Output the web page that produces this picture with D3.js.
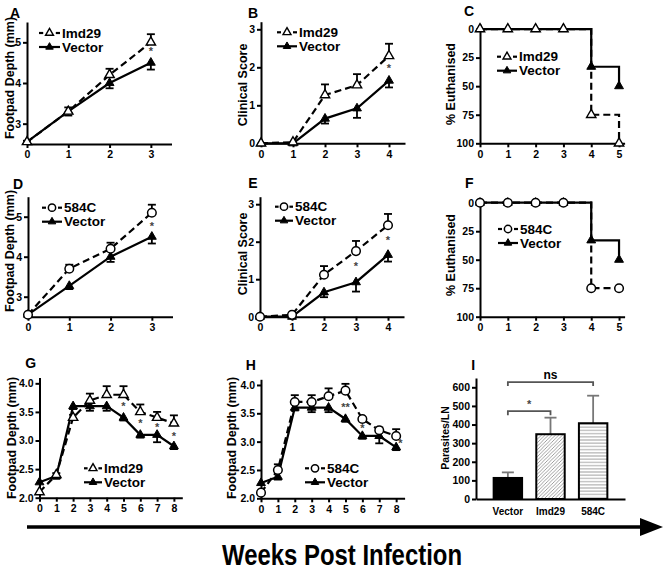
<!DOCTYPE html>
<html><head><meta charset="utf-8">
<script src="https://cdn.jsdelivr.net/npm/d3@7"></script>
<style>
body{margin:0;background:#fff}
svg{display:block}
text{font-family:"Liberation Sans",Arial,Helvetica,sans-serif;font-weight:bold;fill:#000}
</style>
</head><body>
<svg id="c" width="664" height="574"></svg>
<script>
// ---------------- DATA ----------------
const weeks3 = [0,1,2,3];
const weeks4 = [0,1,2,3,4];
const weeks5 = [0,1,2,3,4,5];
const weeks8 = [0,1,2,3,4,5,6,7,8];

// A: footpad depth, Imd29 vs Vector
const A_imd29 = [2.55,3.3,4.2,5.0];
const A_imd29_se = [0.03,0.1,0.15,0.2];
const A_vector = [2.55,3.3,4.0,4.5];
const A_vector_se = [0.03,0.1,0.13,0.17];
const A_stars = [{w:3,v:4.78,t:"*"}];

// B: clinical score, Imd29 vs Vector
const B_imd29 = [0,0.03,1.27,1.53,2.3];
const B_imd29_se = [0,0,0.28,0.29,0.32];
const B_vector = [0,0,0.65,0.92,1.65];
const B_vector_se = [0,0,0.13,0.25,0.18];
const B_stars = [{w:4,v:1.98,t:"*"}];

// C: % euthanised, Imd29 vs Vector
const C_imd29 = [0,0,0,0,75,100];
const C_vector = [0,0,0,0,33,50];

// D: footpad depth, 584C vs Vector
const D_584c = [2.55,3.7,4.2,5.1];
const D_584c_se = [0.03,0.1,0.15,0.2];
const D_vector = [2.55,3.27,4.0,4.5];
const D_vector_se = [0.03,0.08,0.13,0.17];
const D_stars = [{w:3,v:4.76,t:"*"}];

// E: clinical score, 584C vs Vector
const E_584c = [0,0.05,1.12,1.75,2.44];
const E_584c_se = [0,0,0.23,0.27,0.3];
const E_vector = [0,0,0.65,0.92,1.65];
const E_vector_se = [0,0,0.13,0.25,0.18];
const E_stars = [{w:3,v:1.35,t:"*"},{w:4,v:2.05,t:"*"}];

// F: % euthanised, 584C vs Vector
const F_584c = [0,0,0,0,75,75];
const F_vector = [0,0,0,0,33,50];

// G: footpad depth 8 weeks, Imd29 vs Vector
const G_imd29 = [2.1,2.4,3.4,3.7,3.8,3.8,3.5,3.4,3.3];
const G_imd29_se = [0,0.03,0.05,0.12,0.15,0.15,0.13,0.1,0.14];
const G_vector = [2.27,2.38,3.6,3.6,3.6,3.4,3.1,3.1,2.9];
const G_vector_se = [0,0.05,0.05,0.08,0.08,0.05,0.05,0.13,0.05];
const G_stars = [{w:5,v:3.61,t:"*"},{w:6,v:3.3,t:"*"},{w:7,v:3.23,t:"*"},{w:8,v:3.08,t:"*"}];

// H: footpad depth 8 weeks, 584C vs Vector
const H_584c = [2.1,2.5,3.7,3.7,3.8,3.9,3.4,3.2,3.1];
const H_584c_se = [0,0.1,0.12,0.12,0.14,0.12,0.03,0.05,0.12];
const H_vector = [2.27,2.38,3.6,3.6,3.6,3.4,3.1,3.1,2.9];
const H_vector_se = [0,0.05,0.05,0.08,0.08,0.05,0.05,0.13,0.05];
const H_stars = [{w:5,v:3.62,t:"**"},{w:6,v:3.24,t:"*"},{w:8.25,v:2.98,t:"*"}];

// I: parasites per lymph node
const I_groups = ["Vector","Imd29","584C"];
const I_values = [113,348,407];
const I_se = [30,89,148];
const I_brackets = [{from:"Vector",to:"Imd29",level:472,label:"*"},{from:"Vector",to:"584C",level:628,label:"ns"}];

// tick labels
const ticksFootpad = [3,4,5];
const ticksScore = [0,1,2,3];
const ticksEuth = [0,25,50,75,100];
const ticksFootpad8 = [2.0,2.5,3.0,3.5,4.0];
const ticksParasites = [0,100,200,300,400,500,600];

// ---------------- DRAW ----------------
const svg = d3.select("#c");
const defs = svg.append("defs");
const pd = defs.append("pattern").attr("id","diag").attr("patternUnits","userSpaceOnUse").attr("width",3.5).attr("height",3.5);
pd.append("rect").attr("width",3.5).attr("height",3.5).attr("fill","#fff");
pd.append("path").attr("d","M-1,1 l2,-2 M0,3.5 l3.5,-3.5 M2.5,4.5 l2,-2").attr("stroke","#888").attr("stroke-width",0.8);
const ph = defs.append("pattern").attr("id","horiz").attr("patternUnits","userSpaceOnUse").attr("width",4).attr("height",3.2);
ph.append("rect").attr("width",4).attr("height",3.2).attr("fill","#fff");
ph.append("line").attr("x1",0).attr("x2",4).attr("y1",1.6).attr("y2",1.6).attr("stroke","#999").attr("stroke-width",0.9);

function styleAxis(g, fs){
  g.selectAll(".domain").attr("stroke","#000").attr("stroke-width",2);
  g.selectAll(".tick line").attr("stroke","#000").attr("stroke-width",2);
  g.selectAll(".tick text").attr("font-size",fs||10.5).attr("font-weight","bold").attr("fill","#000")
    .attr("font-family",'"Liberation Sans",Arial,sans-serif');
}

function marker(g, type, cx, cy, scale){
  const k = scale||1;
  if(type==="circle"){
    g.append("circle").attr("cx",cx).attr("cy",cy).attr("r",4.3*k).attr("fill","#fff").attr("stroke","#000").attr("stroke-width",1.5);
  } else if(type==="otri"){
    g.append("path").attr("d",d3.symbol(d3.symbolTriangle,38*k*k)()).attr("transform",`translate(${cx},${cy})`)
      .attr("fill","#fff").attr("stroke","#000").attr("stroke-width",1.4);
  } else {
    g.append("path").attr("d",d3.symbol(d3.symbolTriangle,34*k*k)()).attr("transform",`translate(${cx},${cy})`)
      .attr("fill","#000").attr("stroke","#000").attr("stroke-width",1);
  }
}

function linePanel(c){
  const g = svg.append("g");
  const x = d3.scaleLinear().domain(c.xd).range(c.xr);
  const y = d3.scaleLinear().domain(c.yd).range(c.yr);
  const axisY = c.axisY;
  const gx = g.append("g").attr("transform",`translate(0,${axisY})`)
    .call(d3.axisBottom(x).tickValues(c.xticks).tickSize(4).tickSizeOuter(0).tickPadding(3).tickFormat(d3.format("d")));
  styleAxis(gx);
  const gy = g.append("g").attr("transform",`translate(${c.xr[0]},0)`)
    .call(d3.axisLeft(y).tickValues(c.yticks).tickSize(4).tickSizeOuter(0).tickPadding(2).tickFormat(c.yfmt||d3.format("d")));
  styleAxis(gy);
  g.append("text").attr("transform",`translate(${c.ylab[0]},${c.ylab[1]}) rotate(-90)`)
    .attr("text-anchor","middle").attr("dominant-baseline","central").attr("font-size",c.ylabSize||12.5).text(c.ylabel);
  g.append("text").attr("x",c.letterPos[0]).attr("y",c.letterPos[1]).attr("text-anchor","middle")
    .attr("dominant-baseline","central").attr("font-size",14).text(c.letter);
  c.series.forEach(s=>{
    const pts = c.weeks.map((w,i)=>({w, v:s.values[i], se: s.se?s.se[i]:0}));
    if(s.se){
      pts.forEach(p=>{
        if(!p.se) return;
        const y1 = y(p.v), y2 = y(p.v + s.dir*p.se), xx = x(p.w);
        g.append("line").attr("x1",xx).attr("x2",xx).attr("y1",y1).attr("y2",y2).attr("stroke","#000").attr("stroke-width",1.8);
        g.append("line").attr("x1",xx-4).attr("x2",xx+4).attr("y1",y2).attr("y2",y2).attr("stroke","#000").attr("stroke-width",1.8);
      });
    }
    const line = d3.line().x(p=>x(p.w)).y(p=>y(p.v)).curve(c.step?d3.curveStepAfter:d3.curveLinear);
    g.append("path").datum(pts).attr("d",line).attr("fill","none").attr("stroke","#000")
      .attr("stroke-width",2.2).attr("stroke-dasharray",s.dashed?"7,4":null);
  });
  c.series.forEach(s=>{
    c.weeks.forEach((w,i)=>marker(g, s.marker, x(w), y(s.values[i])));
  });
  (c.stars||[]).forEach(st=>{
    g.append("text").attr("x",x(st.w)).attr("y",y(st.v)+4).attr("text-anchor","middle")
      .attr("font-size",11).style("fill","#444").text(st.t);
  });
  const L = c.legend;
  L.items.forEach((it,i)=>{
    const ly = L.y + i*L.dy;
    if(it.dashed){
      g.append("line").attr("x1",L.x).attr("x2",L.x+L.len*0.2).attr("y1",ly).attr("y2",ly).attr("stroke","#000").attr("stroke-width",2.2);
      g.append("line").attr("x1",L.x+L.len*0.8).attr("x2",L.x+L.len).attr("y1",ly).attr("y2",ly).attr("stroke","#000").attr("stroke-width",2.2);
    } else {
      g.append("line").attr("x1",L.x).attr("x2",L.x+L.len).attr("y1",ly).attr("y2",ly).attr("stroke","#000").attr("stroke-width",2.2);
    }
    marker(g, it.marker, L.x+L.len/2, ly, 0.85);
    g.append("text").attr("x",L.x+L.len+2).attr("y",ly).attr("dominant-baseline","central")
      .attr("font-size",13.5).text(it.label);
  });
}

const legImd = (x,y,len)=>({x,y,len,dy:14,items:[{label:"Imd29",marker:"otri",dashed:true},{label:"Vector",marker:"ftri",dashed:false}]});
const leg584 = (x,y,len)=>({x,y,len,dy:14,items:[{label:"584C",marker:"circle",dashed:true},{label:"Vector",marker:"ftri",dashed:false}]});

// A
linePanel({xd:[0,3.5], xr:[27,171.5], yd:[2.5,5.5], yr:[144,22], axisY:144, weeks:weeks3,
  xticks:weeks3, yticks:ticksFootpad, ylabel:"Footpad Depth (mm)", ylab:[10,78], letter:"A", letterPos:[15,13],
  series:[{values:A_vector,se:A_vector_se,dir:-1,marker:"ftri"},{values:A_imd29,se:A_imd29_se,dir:1,marker:"otri",dashed:true}],
  stars:A_stars, legend:legImd(39,33,21)});
// B
linePanel({xd:[0,4.5], xr:[261,405], yd:[0,3.2], yr:[143.3,21.7], axisY:143.3, weeks:weeks4,
  xticks:weeks4, yticks:ticksScore, ylabel:"Clinical Score", ylab:[242.7,85], letter:"B", letterPos:[253,13],
  series:[{values:B_vector,se:B_vector_se,dir:-1,marker:"ftri"},{values:B_imd29,se:B_imd29_se,dir:1,marker:"otri",dashed:true}],
  stars:B_stars, legend:legImd(277,32.3,20)});
// C
linePanel({xd:[0,5.2], xr:[480,624.6], yd:[-4.4,100], yr:[24,143.3], axisY:143.3, weeks:weeks5, step:true,
  xticks:weeks5, yticks:ticksEuth, ylabel:"% Euthanised", ylab:[450.7,84], letter:"C", letterPos:[469,11],
  series:[{values:C_vector,marker:"ftri"},{values:C_imd29,marker:"otri",dashed:true}],
  legend:legImd(497,56.7,20)});
// D
linePanel({xd:[0,3.5], xr:[28,172.5], yd:[2.5,5.5], yr:[316.7,196.7], axisY:316.7, weeks:weeks3,
  xticks:weeks3, yticks:ticksFootpad, ylabel:"Footpad Depth (mm)", ylab:[10,251], letter:"D", letterPos:[18,184],
  series:[{values:D_vector,se:D_vector_se,dir:-1,marker:"ftri"},{values:D_584c,se:D_584c_se,dir:1,marker:"circle",dashed:true}],
  stars:D_stars, legend:leg584(42,207.7,20)});
// E
linePanel({xd:[0,4.5], xr:[260,404], yd:[0,3.2], yr:[316.7,196.7], axisY:316.7, weeks:weeks4,
  xticks:weeks4, yticks:ticksScore, ylabel:"Clinical Score", ylab:[242.7,254], letter:"E", letterPos:[253,183.3],
  series:[{values:E_vector,se:E_vector_se,dir:-1,marker:"ftri"},{values:E_584c,se:E_584c_se,dir:1,marker:"circle",dashed:true}],
  stars:E_stars, legend:leg584(275,206.7,18)});
// F
linePanel({xd:[0,5.2], xr:[480,624.6], yd:[-4.4,100], yr:[197.7,316.7], axisY:316.7, weeks:weeks5, step:true,
  xticks:weeks5, yticks:ticksEuth, ylabel:"% Euthanised", ylab:[450.7,255], letter:"F", letterPos:[469.3,183.3],
  series:[{values:F_vector,marker:"ftri"},{values:F_584c,marker:"circle",dashed:true}],
  legend:leg584(498,229,20)});
// G
linePanel({xd:[0,8.5], xr:[39.5,182.3], yd:[2,4.1], yr:[497.7,377.6], axisY:497.7, weeks:weeks8,
  xticks:weeks8, yticks:ticksFootpad8, yfmt:d3.format(".1f"), ylabel:"Footpad Depth (mm)", ylab:[12,438], letter:"G", letterPos:[30.7,363.3],
  series:[{values:G_vector,se:G_vector_se,dir:-1,marker:"ftri"},{values:G_imd29,se:G_imd29_se,dir:1,marker:"otri",dashed:true}],
  stars:G_stars, legend:legImd(84,468.3,18)});
// H
linePanel({xd:[0,8.5], xr:[261,404.6], yd:[2,4.1], yr:[498.3,379.3], axisY:498.3, weeks:weeks8,
  xticks:weeks8, yticks:ticksFootpad8, yfmt:d3.format(".1f"), ylabel:"Footpad Depth (mm)", ylab:[232,438], letter:"H", letterPos:[250.7,365],
  series:[{values:H_vector,se:H_vector_se,dir:-1,marker:"ftri"},{values:H_584c,se:H_584c_se,dir:1,marker:"circle",dashed:true}],
  stars:H_stars, legend:leg584(305,468.3,20)});

// I
(function(){
  const g = svg.append("g");
  const xb = d3.scaleBand().domain(I_groups).range([476,625]).paddingInner(0.333).paddingOuter(0.414);
  const y = d3.scaleLinear().domain([0,650]).range([499,378]);
  const gx = g.append("g").attr("transform","translate(0,499)")
    .call(d3.axisBottom(xb).tickSize(0).tickPadding(9).tickSizeOuter(0));
  styleAxis(gx,10);
  const gy = g.append("g").attr("transform","translate(476,0)")
    .call(d3.axisLeft(y).tickValues(ticksParasites).tickSize(4).tickSizeOuter(0).tickPadding(2));
  styleAxis(gy,10.5);
  const fills = ["#000","url(#diag)","url(#horiz)"];
  I_groups.forEach((grp,i)=>{
    const cx = xb(grp)+xb.bandwidth()/2;
    const yt = y(I_values[i]+I_se[i]);
    g.append("line").attr("x1",cx).attr("x2",cx).attr("y1",y(I_values[i])).attr("y2",yt).attr("stroke","#777").attr("stroke-width",1.8);
    g.append("line").attr("x1",cx-6).attr("x2",cx+6).attr("y1",yt).attr("y2",yt).attr("stroke","#777").attr("stroke-width",1.8);
    g.append("rect").attr("x",xb(grp)).attr("width",xb.bandwidth()).attr("y",y(I_values[i]))
      .attr("height",y(0)-y(I_values[i])).attr("fill",fills[i]).attr("stroke","#000").attr("stroke-width",2);
  });
  I_brackets.forEach(b=>{
    const x1 = xb(b.from)+xb.bandwidth()/2, x2 = xb(b.to)+xb.bandwidth()/2, yy = y(b.level);
    g.append("path").attr("d",`M${x1},${yy+4}V${yy}H${x2}V${yy+4}`).attr("fill","none").attr("stroke","#555").attr("stroke-width",1.8);
    g.append("text").attr("x",(x1+x2)/2).attr("y",yy-3).attr("text-anchor","middle")
      .attr("font-size",b.label==="ns"?12:11).style("fill",b.label==="ns"?"#000":"#444").text(b.label);
  });
  g.append("text").attr("transform","translate(445,438) rotate(-90)").attr("text-anchor","middle")
    .attr("dominant-baseline","central").attr("font-size",10.5).text("Parasites/LN");
  g.append("text").attr("x",473.3).attr("y",365).attr("text-anchor","middle").attr("dominant-baseline","central")
    .attr("font-size",14).text("I");
})();

// bottom arrow + title
svg.append("line").attr("x1",27).attr("x2",645).attr("y1",527).attr("y2",527).attr("stroke","#000").attr("stroke-width",3.5);
svg.append("path").attr("d","M640,518 L663,527 L640,536 Z").attr("fill","#000");
svg.append("text").attr("x",342).attr("y",565).attr("text-anchor","middle")
  .attr("font-size",29).attr("textLength",240).attr("lengthAdjust","spacingAndGlyphs")
  .style("font-family",'"Liberation Sans Narrow","Arial Narrow","Liberation Sans",sans-serif')
  .text("Weeks Post Infection");
</script>
</body></html>
